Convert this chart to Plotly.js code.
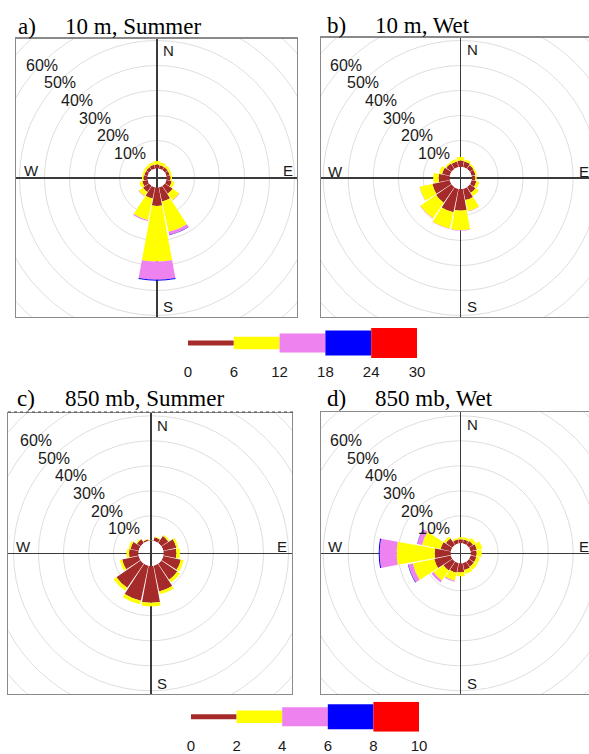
<!DOCTYPE html>
<html>
<head>
<meta charset="utf-8">
<script src="https://cdn.plot.ly/plotly-3.0.1.min.js"></script>
<style>
  html, body { margin: 0; padding: 0; background: #fff; }
  #chart { width: 589px; height: 754px; }
</style>
</head>
<body>
<div id="chart"></div>
<script>
// Sixteen compass sectors, clockwise from north
const directions = ['N','NNE','NE','ENE','E','ESE','SE','SSE','S','SSW','SW','WSW','W','WNW','NW','NNW'];

// Frequency of occurrence (%) per sector and wind-speed class
// a) 10 m, Summer  (classes 0-6, 6-12, 12-18, 18-24)
const sfcSummer_0_6   = [1.6, 1.4, 1.4, 1.4, 1.6, 2.2, 3.8, 5.8, 7.4, 4.6, 3.0, 2.2, 1.6, 1.4, 1.4, 1.6];
const sfcSummer_6_12  = [1.4, 1.2, 1.0, 0.8, 0.6, 1.2, 3.2, 12.4, 22.2, 8.8, 2.0, 1.2, 0.6, 0.8, 1.0, 1.0];
const sfcSummer_12_18 = [0, 0, 0, 0, 0, 0, 0.2, 1.2, 7.3, 0.4, 0.2, 0, 0, 0, 0, 0];
const sfcSummer_18_24 = [0, 0, 0, 0, 0, 0, 0, 0.2, 0.4, 0, 0, 0, 0, 0, 0, 0];

// b) 10 m, Wet
const sfcWet_0_6   = [2.6, 2.4, 1.8, 1.6, 1.4, 2.0, 2.8, 4.6, 8.6, 9.6, 7.6, 7.2, 4.4, 3.2, 2.6, 2.4];
const sfcWet_6_12  = [1.4, 0.8, 0.6, 0.6, 0.6, 1.2, 1.6, 4.6, 7.8, 6.7, 7.6, 5.2, 2.2, 1.2, 0.6, 1.0];
const sfcWet_12_18 = [0, 0, 0, 0, 0, 0, 0, 0.1, 0.2, 0.2, 0.2, 0.1, 0, 0, 0, 0];
const sfcWet_18_24 = [0, 0, 0, 0, 0, 0, 0, 0, 0, 0, 0, 0, 0, 0, 0, 0];

// c) 850 mb, Summer  (classes 0-2, 2-4, 4-6, 6-8)
const mb850Summer_0_2 = [0.2, 1.6, 3.4, 5.4, 5.2, 7.2, 7.8, 10.6, 14.8, 14.4, 11.8, 6.8, 3.8, 3.4, 1.8, 0.6];
const mb850Summer_2_4 = [0.1, 0.3, 0.6, 0.8, 1.4, 1.2, 1.4, 1.2, 1.4, 1.4, 1.4, 1.0, 1.0, 0.8, 0.4, 0.2];
const mb850Summer_4_6 = [0, 0, 0, 0, 0, 0, 0, 0, 0, 0, 0, 0, 0, 0, 0, 0];
const mb850Summer_6_8 = [0, 0, 0, 0, 0, 0, 0, 0, 0, 0, 0, 0, 0, 0, 0, 0];

// d) 850 mb, Wet
const mb850Wet_0_2 = [1.6, 1.6, 2.0, 2.6, 2.4, 2.4, 2.4, 2.8, 3.6, 4.0, 4.4, 6.8, 6.4, 4.2, 3.2, 1.6];
const mb850Wet_2_4 = [0.8, 1.0, 1.4, 2.2, 2.0, 1.4, 1.6, 1.6, 1.6, 3.2, 4.8, 8.8, 15.2, 7.6, 1.0, 0.6];
const mb850Wet_4_6 = [0, 0, 0, 0, 0, 0, 0, 0, 0, 0.4, 1.0, 1.8, 6.8, 2.0, 0, 0];
const mb850Wet_6_8 = [0, 0, 0, 0, 0, 0, 0, 0, 0, 0, 0, 0.2, 0.4, 0.1, 0, 0];

// Speed-class edges shown under each colour key
const speedEdges10m = [0, 6, 12, 18, 24, 30];
const speedEdges850 = [0, 2, 4, 6, 8, 10];

// Rings and their labels
const ringPercents = [10, 20, 30, 40, 50, 60, 70];
const ringLabels = ['10%', '20%', '30%', '40%', '50%', '60%'];
const compass = { N: 'N', E: 'E', S: 'S', W: 'W' };

// ---------- drawing settings ----------
const W = 589, H = 754;
const PX_PER_PCT = 2.5;      // radial scale
const RING_CALM_PX = 12.5;   // radius of the 0 % ring
const POLAR_HALF = 120;      // half-size of each polar domain square (px)
const SECTOR_WIDTH = 20.8;   // angular width of a bar (deg)
const SPEED_COLORS = ['#a52a2a', '#ffff00', '#ee82ee', '#0000ff', '#ff0000'];
const SANS = 'Arial, "Liberation Sans", sans-serif';
const SERIF = '"Times New Roman", "Liberation Serif", serif';
const LEGEND_HALF = [2.5, 6.2, 9.5, 12.5, 15];

const panels = [
  { tag: 'a)', title: '10 m, Summer', cx: 157, cy: 178, l: 16, r: 297, t: 38.5, b: 317, calm: 9.5,
    titleX: [16, 63], titleBase: 34,
    bins: [sfcSummer_0_6, sfcSummer_6_12, sfcSummer_12_18, sfcSummer_18_24] },
  { tag: 'b)', title: '10 m, Wet', cx: 460.7, cy: 178, l: 320.7, r: 601, t: 37.5, b: 317, calm: 11,
    titleX: [325, 373], titleBase: 33,
    bins: [sfcWet_0_6, sfcWet_6_12, sfcWet_12_18, sfcWet_18_24] },
  { tag: 'c)', title: '850 mb, Summer', cx: 151, cy: 553.3, l: 8.3, r: 292, t: 413, b: 694, calm: 12.5,
    titleX: [15, 63], titleBase: 406,
    bins: [mb850Summer_0_2, mb850Summer_2_4, mb850Summer_4_6, mb850Summer_6_8] },
  { tag: 'd)', title: '850 mb, Wet', cx: 460.7, cy: 553.3, l: 320.7, r: 601, t: 412.3, b: 694, calm: 10,
    titleX: [325, 373], titleBase: 406,
    bins: [mb850Wet_0_2, mb850Wet_2_4, mb850Wet_4_6, mb850Wet_6_8] }
];

const keys = [
  { edges: speedEdges10m, l: 188, r: 417, cy: 343 },
  { edges: speedEdges850, l: 191, r: 419, cy: 716.7 }
];

const traces = [];
const shapes = [];
const annotations = [];
const layout = {
  width: W, height: H,
  margin: { l: 0, r: 0, t: 0, b: 0 },
  paper_bgcolor: '#ffffff', plot_bgcolor: '#ffffff',
  showlegend: false,
  font: { family: SANS, color: '#1a1a1a' }
};

const theta = directions.map((d, i) => i * 360 / directions.length);

panels.forEach((p, i) => {
  const n = i + 1;
  const sfx = n === 1 ? '' : String(n);
  const xr = Math.min(p.r, W);

  // square frame with crosshair, in pixel units centred on the rose
  layout['xaxis' + sfx] = {
    domain: [p.l / W, xr / W], range: [p.l - p.cx, xr - p.cx], anchor: 'y' + sfx,
    showgrid: false, showticklabels: false, ticks: '',
    zeroline: true, zerolinecolor: '#3a3a3a', zerolinewidth: 1.1,
    showline: true, mirror: true, linecolor: '#8a8a8a', linewidth: 1.2, fixedrange: true
  };
  layout['yaxis' + sfx] = {
    domain: [1 - p.b / H, 1 - p.t / H], range: [p.cy - p.b, p.cy - p.t], anchor: 'x' + sfx,
    showgrid: false, showticklabels: false, ticks: '',
    zeroline: true, zerolinecolor: '#3a3a3a', zerolinewidth: 1.1,
    showline: true, mirror: p.r <= W, linecolor: '#8a8a8a', linewidth: 1.2, fixedrange: true
  };
  traces.push({ type: 'scatter', x: [], y: [], xaxis: 'x' + sfx, yaxis: 'y' + sfx, hoverinfo: 'skip' });

  // percentage rings (clipped to the frame)
  ringPercents.forEach(pc => {
    const rr = RING_CALM_PX + PX_PER_PCT * pc;
    shapes.push({ type: 'circle', xref: 'x' + sfx, yref: 'y' + sfx, layer: 'below',
      x0: -rr, x1: rr, y0: -rr, y1: rr, line: { color: '#dedede', width: 1 } });
  });

  // ring labels along the north-west diagonal
  ringLabels.forEach((lab, k) => {
    const rr = RING_CALM_PX + PX_PER_PCT * ringPercents[k];
    annotations.push({ xref: 'x' + sfx, yref: 'y' + sfx, x: -rr / Math.SQRT2, y: rr / Math.SQRT2 - 2,
      text: lab, showarrow: false, xanchor: 'center', yanchor: 'middle',
      font: { family: SANS, size: 16, color: '#1a1a1a' } });
  });

  // compass letters (E kept inside the page when the frame runs past it)
  const cf = { family: SANS, size: 15, color: '#1a1a1a' };
  const eastX = Math.min(124, xr - p.cx - 12);
  annotations.push({ xref: 'x' + sfx, yref: 'y' + sfx, x: 4, y: (p.cy - p.t) - 12, text: compass.N,
    showarrow: false, xanchor: 'left', yanchor: 'middle', font: cf });
  annotations.push({ xref: 'x' + sfx, yref: 'y' + sfx, x: 4, y: -(p.b - p.cy) + 10.5, text: compass.S,
    showarrow: false, xanchor: 'left', yanchor: 'middle', font: cf });
  annotations.push({ xref: 'x' + sfx, yref: 'y' + sfx, x: (p.l - p.cx) + 5.5, y: 7, text: compass.W,
    showarrow: false, xanchor: 'left', yanchor: 'middle', font: cf });
  annotations.push({ xref: 'x' + sfx, yref: 'y' + sfx, x: eastX, y: 7, text: compass.E,
    showarrow: false, xanchor: 'left', yanchor: 'middle', font: cf });

  // panel heading
  const tf = { family: SERIF, size: 23, color: '#000' };
  const ty = 1 - (p.titleBase - 7.8) / H;
  annotations.push({ xref: 'paper', yref: 'paper', x: p.titleX[0] / W, y: ty, text: p.tag,
    showarrow: false, xanchor: 'left', yanchor: 'middle', font: tf });
  annotations.push({ xref: 'paper', yref: 'paper', x: p.titleX[1] / W, y: ty, text: p.title,
    showarrow: false, xanchor: 'left', yanchor: 'middle', font: tf });

  // the rose itself
  const pname = 'polar' + sfx;
  layout[pname] = {
    domain: { x: [(p.cx - POLAR_HALF) / W, (p.cx + POLAR_HALF) / W],
              y: [1 - (p.cy + POLAR_HALF) / H, 1 - (p.cy - POLAR_HALF) / H] },
    hole: p.calm / POLAR_HALF,
    bgcolor: 'rgba(0,0,0,0)',
    barmode: 'stack',
    radialaxis: { range: [0, (POLAR_HALF - p.calm) / PX_PER_PCT], visible: false, showgrid: false, showline: false, showticklabels: false, ticks: '' },
    angularaxis: { rotation: 90, direction: 'clockwise', visible: false, showgrid: false, showline: false, showticklabels: false, ticks: '' }
  };
  p.bins.forEach((vals, k) => {
    traces.push({ type: 'barpolar', subplot: pname, r: vals, theta: theta, width: SECTOR_WIDTH,
      marker: { color: SPEED_COLORS[k], line: { width: 0 } }, hoverinfo: 'skip' });
  });
});

// dotted rule above panel c
shapes.push({ type: 'line', xref: 'paper', yref: 'paper', x0: 8 / W, x1: 295 / W,
  y0: 1 - 412 / H, y1: 1 - 412 / H, line: { color: '#444', width: 1, dash: 'dot' } });

// speed colour keys
keys.forEach((kd, j) => {
  const n = 5 + j;
  const e = kd.edges;
  const centers = e.slice(0, -1).map((v, i) => (v + e[i + 1]) / 2);
  const widths = e.slice(0, -1).map((v, i) => e[i + 1] - v);
  layout['xaxis' + n] = {
    domain: [kd.l / W, kd.r / W], range: [e[0], e[e.length - 1]], anchor: 'y' + n,
    showgrid: false, zeroline: false, showline: false,
    tickmode: 'array', tickvals: e, ticktext: e.map(String),
    ticks: '', ticklen: 0, ticklabelstandoff: 3,
    tickfont: { family: SANS, size: 15, color: '#1a1a1a' }, fixedrange: true
  };
  layout['yaxis' + n] = {
    domain: [1 - (kd.cy + 15) / H, 1 - (kd.cy - 15) / H], range: [-15, 15], anchor: 'x' + n,
    visible: false, fixedrange: true
  };
  traces.push({ type: 'bar', xaxis: 'x' + n, yaxis: 'y' + n,
    x: centers, width: widths,
    base: LEGEND_HALF.map(h => -h), y: LEGEND_HALF.map(h => 2 * h),
    marker: { color: SPEED_COLORS, line: { width: 0 } }, hoverinfo: 'skip' });
});

layout.shapes = shapes;
layout.annotations = annotations;

Plotly.newPlot('chart', traces, layout, { staticPlot: true, displayModeBar: false });
</script>
</body>
</html>
